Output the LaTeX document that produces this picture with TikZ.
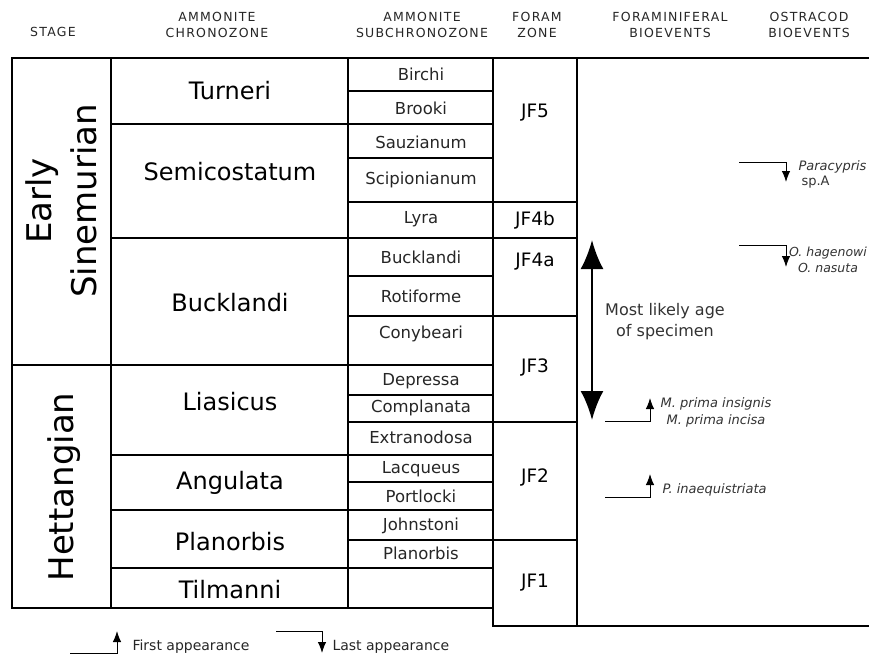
\documentclass[tikz,border=0pt]{standalone}
\usepackage{fontspec}
\setmainfont{DejaVu Sans}
\newfontfamily\hdfont[LetterSpace=10]{DejaVu Sans}
\usetikzlibrary{arrows.meta}

\tikzset{
  grid/.style={line width=1.8pt, line cap=rect},
  hdr/.style={align=center, text=black!85, font=\hdfont\fontsize{12.5}{16}\selectfont},
  stagetxt/.style={rotate=90, align=center, font=\fontsize{34}{45}\selectfont},
  chrono/.style={font=\fontsize{24}{28}\selectfont},
  subz/.style={text=black!85, font=\fontsize{16.5}{18}\selectfont},
  foram/.style={font=\fontsize{18.5}{20}\selectfont},
  bio/.style={align=center, text=black!80, font=\itshape\fontsize{13}{17}\selectfont},
  legtxt/.style={anchor=west, text=black!85, font=\fontsize{14}{15}\selectfont},
  elbow/.style={line width=1pt, -{Latex[length=11pt,width=8.5pt]}},
}

\begin{document}
\begin{tikzpicture}[x=1pt,y=-1pt]
  \useasboundingbox (0,0) rectangle (869,656);

  % headings
  \node[hdr] (h1) at (53,32) {STAGE};
  \node[hdr] (h2) at (217,25) {AMMONITE\\CHRONOZONE};
  \node[hdr] (h3) at (422,25) {AMMONITE\\SUBCHRONOZONE};
  \node[hdr] (h4) at (537,25) {FORAM\\ZONE};
  \node[hdr] (h5) at (670,25) {FORAMINIFERAL\\BIOEVENTS};
  \node[hdr] (h6) at (809,25) {OSTRACOD\\BIOEVENTS};

  % table
  \draw[grid] (12,58) rectangle (493,608);
  \draw[grid] (111,58) -- (111,608) (348,58) -- (348,608);
  \draw[grid] (493,58) rectangle (577,626);
  \draw[grid] (577,58) -- (875,58) (577,626) -- (875,626);
  \draw[grid] (12,365) -- (111,365);
  \draw[grid] (111,124) -- (348,124) (111,238) -- (348,238) (111,365) -- (348,365)
    (111,455) -- (348,455) (111,510) -- (348,510) (111,568) -- (348,568);
  \draw[grid] (348,91) -- (493,91) (348,124) -- (493,124) (348,158) -- (493,158)
    (348,202) -- (493,202) (348,238) -- (493,238) (348,276) -- (493,276)
    (348,316) -- (493,316) (348,365) -- (493,365) (348,395) -- (493,395)
    (348,422) -- (493,422) (348,455) -- (493,455) (348,482) -- (493,482)
    (348,510) -- (493,510) (348,540) -- (493,540) (348,568) -- (493,568);
  \draw[grid] (493,202) -- (577,202) (493,238) -- (577,238) (493,316) -- (577,316)
    (493,422) -- (577,422) (493,540) -- (577,540);

  % stages
  \node[stagetxt] (s1) at (61,201) {Early\\Sinemurian};
  \node[stagetxt] (s2) at (64,487) {Hettangian};

  % chronozones
  \node[chrono] (c1) at (230,91) {Turneri};
  \node[chrono] (c2) at (230,172) {Semicostatum};
  \node[chrono] (c3) at (230,303) {Bucklandi};
  \node[chrono] (c4) at (230,402) {Liasicus};
  \node[chrono] (c5) at (230,483) {Angulata};
  \node[chrono] (c6) at (230,542) {Planorbis};
  \node[chrono] (c7) at (230,590) {Tilmanni};

  % subchronozones
  \node[subz] (z1) at (421,74) {Birchi};
  \node[subz] (z2) at (421,108) {Brooki};
  \node[subz] (z3) at (421,142) {Sauzianum};
  \node[subz] (z4) at (421,180) {Scipionianum};
  \node[subz] (z5) at (421,219) {Lyra};
  \node[subz] (z6) at (421,257) {Bucklandi};
  \node[subz] (z7) at (421,296) {Rotiforme};
  \node[subz] (z8) at (421,334) {Conybeari};
  \node[subz] (z9) at (421,381) {Depressa};
  \node[subz] (z10) at (421,408) {Complanata};
  \node[subz] (z11) at (421,437) {Extranodosa};
  \node[subz] (z12) at (421,469) {Lacqueus};
  \node[subz] (z13) at (421,496) {Portlocki};
  \node[subz] (z14) at (421,526) {Johnstoni};
  \node[subz] (z15) at (421,553) {Planorbis};

  % foram zones
  \node[foram] (f1) at (535,113) {JF5};
  \node[foram] (f2) at (535,220) {JF4b};
  \node[foram] (f3) at (535,262) {JF4a};
  \node[foram] (f4) at (535,367) {JF3};
  \node[foram] (f5) at (535,477) {JF2};
  \node[foram] (f6) at (535,583) {JF1};

  % age of specimen
  \coordinate (a1) at (592,240);
  \coordinate (a2) at (592,420);
  \draw[line width=2.5pt, {Latex[length=29pt,width=23pt]}-{Latex[length=29pt,width=23pt]}] (a1) -- (a2);
  \node[align=center, text=black!80, font=\fontsize{16}{21}\selectfont] (m) at (665,322) {Most likely age\\of specimen};

  % bioevents
  \coordinate (e1) at (605,421);
  \coordinate (e2) at (650,398);
  \draw[elbow] (e1) -| (e2);
  \node[bio] (b1) at (716,412) {M. prima insignis\\M. prima incisa};
  \coordinate (e3) at (605,497);
  \coordinate (e4) at (650,474);
  \draw[elbow] (e3) -| (e4);
  \node[bio, anchor=west] (b2) at (659,490) {P. inaequistriata};
  \coordinate (e5) at (739,162);
  \coordinate (e6) at (786,182);
  \draw[elbow] (e5) -| (e6);
  \node[bio, align=left, anchor=west, font=\fontsize{13}{15}\selectfont] (b3) at (795,174) {\textit{Paracypris}\\\hspace{3pt}sp.A};
  \coordinate (e7) at (739,245);
  \coordinate (e8) at (786,267);
  \draw[elbow] (e7) -| (e8);
  \node[bio, font=\itshape\fontsize{12.5}{16}\selectfont] (b4) at (828,260) {O. hagenowi\\O. nasuta};

  % legend
  \coordinate (e9) at (70,653);
  \coordinate (e10) at (117,631);
  \draw[elbow] (e9) -| (e10);
  \node[legtxt] (l1) at (129,647) {First appearance};
  \coordinate (e11) at (276,631);
  \coordinate (e12) at (322,653);
  \draw[elbow] (e11) -| (e12);
  \node[legtxt] (l2) at (329,647) {Last appearance};
\end{tikzpicture}
\end{document}
